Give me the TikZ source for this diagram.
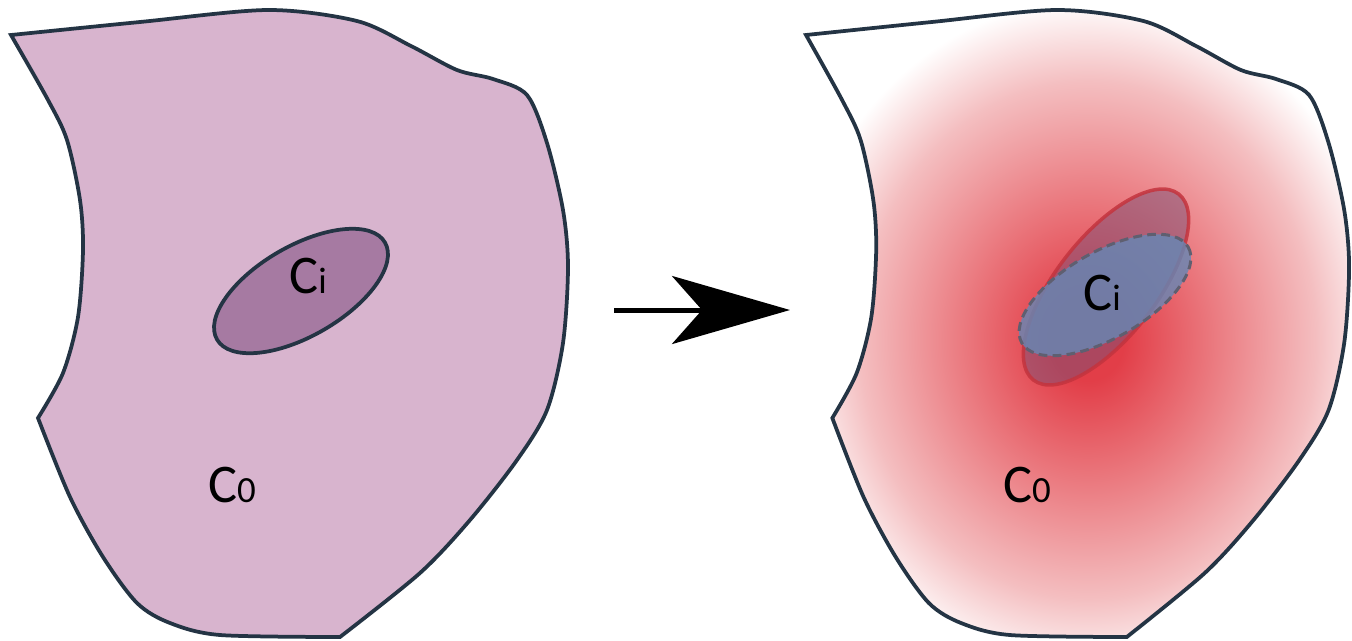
\documentclass[tikz,border=0pt]{standalone}
\usepackage{fontspec}
\setmainfont{Carlito}
\usepackage{tikz}
\usetikzlibrary{arrows.meta, positioning}
\definecolor{edge}{HTML}{243444}
\definecolor{lilac}{HTML}{D8B4CE}
\definecolor{lilacDark}{HTML}{A67AA2}
\definecolor{heatCore}{RGB}{226,62,72}
\definecolor{heatMid}{RGB}{234,118,124}
\definecolor{heatPale}{RGB}{244,190,192}
\definecolor{spotRed}{RGB}{196,52,62}
\definecolor{spotFill}{RGB}{120,80,118}
\definecolor{origBlue}{RGB}{100,136,182}
\definecolor{origLine}{RGB}{95,95,112}
% white is reached at the rim of the shaded ellipse (25bp)
\pgfdeclareradialshading{heat}{\pgfpointorigin}{color(0bp)=(heatCore); color(3bp)=(heatCore); color(10bp)=(heatMid); color(19bp)=(heatPale); color(25bp)=(white); color(50bp)=(white)}
\newcommand{\sm}[1]{{\fontsize{21}{24}\selectfont #1}}
% outline of the region, in pixel units
\newcommand{\regionpath}{plot[smooth] coordinates {(11,35) (140,22) (268,10) (357,21) (411,46) (457,70) (493,79) (527,95) (547,143) (563,210) (568,267) (563,343) (547,410) (517,460) (470,520) (420,573) (340,637)}
  -- plot[smooth] coordinates {(340,637) (220,635) (170,623) (137,603) (103,557) (70,497) (38,418)}
  -- plot[smooth] coordinates {(38,418) (63,373) (78,317) (83,250) (80,200) (67,140) (48,100) (11,35)} -- cycle}

\begin{document}
\begin{tikzpicture}[
  x=0.02cm, y=-0.02cm,
  region/.style={draw=edge, line width=0.075cm},
  rightcopy/.style={shift={(806,35)}, xscale=0.975, shift={(-11,-35)}},
  lbl/.style={font=\fontsize{31}{34}\selectfont, inner sep=0pt, anchor=base},
  spread/.style={draw=spotRed, draw opacity=0.85, line width=0.07cm,
    fill=spotFill, fill opacity=0.5},
  orig/.style={draw=origLine, line width=0.06cm, dash pattern=on 5pt off 3pt,
    fill=origBlue, fill opacity=0.8},
  flow/.style={line width=0.1cm, -{Stealth[length=2.36cm, width=1.36cm, inset=0.6cm]}},
]
  \useasboundingbox (0,0) rectangle (1352,640);

  % before
  \draw[region, fill=lilac] \regionpath;
  \draw[region, fill=lilacDark, rotate around={30:(301,291)}] (301,291) ellipse [x radius=97, y radius=45];
  \node[lbl] (ciL) at (308,293) {C\sm{i}};
  \node[lbl] (coL) at (232,502) {C\sm{0}};

  % arrow
  \coordinate (arrS) at (614,310);
  \coordinate (arrE) at (790,310);
  \draw[flow] (arrS) -- (arrE);

  % after
  \begin{scope}
    \clip[rightcopy] \regionpath;
    \shade[shading=heat] (1088,340) ellipse [x radius=300, y radius=340];
  \end{scope}
  \draw[region, rightcopy] \regionpath;
  \draw[spread, rotate around={52:(1106,287)}] (1106,287) ellipse [x radius=118, y radius=50];
  \draw[orig, rotate around={30:(1105,295)}] (1105,295) ellipse [x radius=96, y radius=43];
  \node[lbl] (ciR) at (1102,310) {C\sm{i}};
  \node[lbl] (coR) at (1027,502) {C\sm{0}};
\end{tikzpicture}
\end{document}
